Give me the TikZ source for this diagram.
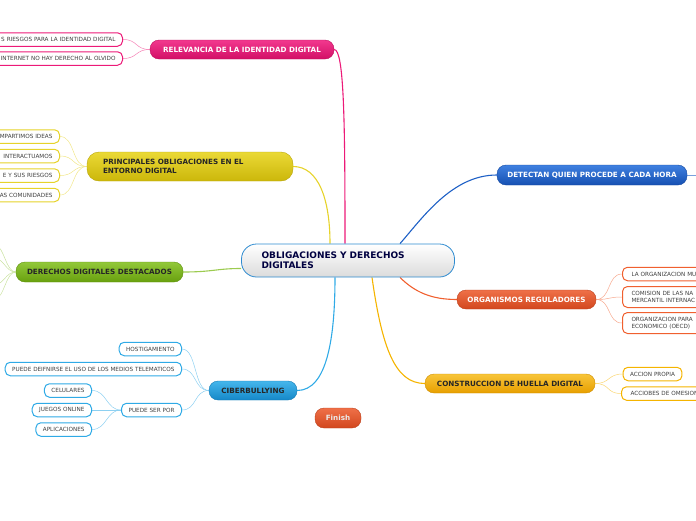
\documentclass[tikz,border=0pt]{standalone}
\usepackage{fontspec}
\setmainfont{DejaVu Sans}
\usetikzlibrary{backgrounds}
\definecolor{rootline}{HTML}{2E8BD0}
\definecolor{pinkA}{HTML}{F2388E}\definecolor{pinkB}{HTML}{D20F66}
\definecolor{yelA}{HTML}{EAD936}\definecolor{yelB}{HTML}{CCB70A}
\definecolor{grnA}{HTML}{92C83A}\definecolor{grnB}{HTML}{68A00E}
\definecolor{cyaA}{HTML}{45B6EC}\definecolor{cyaB}{HTML}{1588C8}
\definecolor{bluA}{HTML}{3F80E0}\definecolor{bluB}{HTML}{1650B2}
\definecolor{orgA}{HTML}{EF7048}\definecolor{orgB}{HTML}{D2471E}
\definecolor{ambA}{HTML}{F8C53A}\definecolor{ambB}{HTML}{E79F00}
\definecolor{pinkline}{HTML}{EC1A78}
\definecolor{yelline}{HTML}{E6D32A}
\definecolor{grnline}{HTML}{9CCB50}
\definecolor{cyaline}{HTML}{2FAAE6}
\definecolor{bluline}{HTML}{1E60C6}
\definecolor{orgline}{HTML}{F0602F}
\definecolor{ambline}{HTML}{F5B400}
\tikzset{
  root/.style={
    draw=rootline,
    line width=0.8pt,
    top color=white,
    bottom color=black!14,
    rounded corners=15pt,
    minimum height=33pt,
    inner xsep=20pt,
    inner ysep=0pt,
    align=left,
    text=blue!25!black,
    font=\bfseries\fontsize{9}{10.2}\selectfont,
  },
  topic/.style 2 args={
    draw=#2!90!black,
    line width=0.4pt,
    top color=#1,
    bottom color=#2,
    rounded corners=9pt,
    minimum height=19pt,
    inner sep=0pt,
    font=\bfseries\fontsize{7.2}{8.6}\selectfont,
  },
  leaf/.style={
    draw=#1,
    fill=white,
    line width=1pt,
    rounded corners=5pt,
    minimum height=13.5pt,
    inner xsep=7pt,
    inner ysep=0pt,
    text=black!75,
    font=\fontsize{5.7}{7}\selectfont,
  },
  branch/.style={line width=1.1pt, draw=#1},
  twig/.style={line width=0.5pt, draw=#1!55},
}

\begin{document}
\begin{tikzpicture}[x=1pt, y=-1pt]
    \useasboundingbox (0, 0) rectangle (696, 520);

    % central topic
    \node[root, text width=173pt] (root) at (348, 260.5) {OBLIGACIONES Y DERECHOS\\DIGITALES};

    % main topics
    \node[topic={pinkA}{pinkB}, text=white, minimum width=184pt] (relev) at (242, 49.5) {RELEVANCIA DE LA IDENTIDAD DIGITAL};
    \node[topic={yelA}{yelB}, minimum width=206pt, minimum height=29pt, rounded corners=12pt,
          text width=174pt, align=left, text=black!85] (oblig) at (190, 166.5) {PRINCIPALES OBLIGACIONES EN EL\\ENTORNO DIGITAL};
    \node[topic={grnA}{grnB}, text=black!85, minimum width=167pt, minimum height=20pt] (derech) at (99.5, 272) {DERECHOS DIGITALES DESTACADOS};
    \node[topic={cyaA}{cyaB}, text=black!85, minimum width=88pt] (ciber) at (253, 390.5) {CIBERBULLYING};
    \node[topic={bluA}{bluB}, text=white, minimum width=190pt, minimum height=20pt] (detect) at (592, 175) {DETECTAN QUIEN PROCEDE A CADA HORA};
    \node[topic={orgA}{orgB}, text=white, minimum width=139pt] (organ) at (526.5, 299.5) {ORGANISMOS REGULADORES};
    \node[topic={ambA}{ambB}, text=black!85, minimum width=170pt] (huella) at (510, 383.5) {CONSTRUCCION DE HUELLA DIGITAL};
    \node[topic={orgA}{orgB}, text=white!92!black, minimum width=46pt, minimum height=20pt] (finish) at (338, 418) {Finish};

    % leaves of relevancia
    \node[leaf=pinkline, anchor=east, text width=150pt, align=right] (relA) at (123, 39.5) {S RIESGOS PARA LA IDENTIDAD DIGITAL};
    \node[leaf=pinkline, anchor=east, text width=150pt, align=right] (relB) at (123, 58.5) {INTERNET NO HAY DERECHO AL OLVIDO};

    % leaves of obligaciones
    \node[leaf=yelline, anchor=east, text width=80pt, align=right] (oblA) at (60, 136.5) {MPARTIMOS IDEAS};
    \node[leaf=yelline, anchor=east, text width=80pt, align=right] (oblB) at (60, 156) {INTERACTUAMOS};
    \node[leaf=yelline, anchor=east, text width=80pt, align=right] (oblC) at (60, 175.5) {E Y SUS RIESGOS};
    \node[leaf=yelline, anchor=east, text width=80pt, align=right] (oblD) at (60, 195) {AS COMUNIDADES};

    % ends of derechos (off the page)
    \coordinate (derA) at (-4, 246);
    \coordinate (derB) at (-4, 259);
    \coordinate (derC) at (-4, 284);
    \coordinate (derD) at (-4, 298);

    % leaves of ciberbullying
    \node[leaf=cyaline, anchor=east] (cibA) at (182, 349) {HOSTIGAMIENTO};
    \node[leaf=cyaline, anchor=east] (cibB) at (182, 369) {PUEDE DEIFNIRSE EL USO DE LOS MEDIOS TELEMATICOS};
    \node[leaf=cyaline, anchor=east] (cibC) at (182, 410) {PUEDE SER POR};
    \node[leaf=cyaline, anchor=east] (porA) at (92, 390.5) {CELULARES};
    \node[leaf=cyaline, anchor=east] (porB) at (92, 410) {JUEGOS ONLINE};
    \node[leaf=cyaline, anchor=east] (porC) at (92, 429.5) {APLICACIONES};

    % detectan runs off the page
    \coordinate (detEnd) at (700, 175);

    % leaves of organismos
    \node[leaf=orgline, anchor=west, text width=90pt, align=left, inner xsep=9pt] (orgA) at (622, 274) {LA ORGANIZACION MU};
    \node[leaf=orgline, anchor=west, text width=90pt, align=left, inner xsep=9pt, minimum height=21pt] (orgB) at (622, 297) {COMISION DE LAS NA\\MERCANTIL INTERNAC};
    \node[leaf=orgline, anchor=west, text width=90pt, align=left, inner xsep=9pt, minimum height=21pt] (orgC) at (622, 323) {ORGANIZACION PARA\\ECONOMICO (OECD)};

    % leaves of huella
    \node[leaf=ambline] (hueA) at (652.5, 374) {ACCION PROPIA};
    \node[leaf=ambline, anchor=west, text width=90pt, align=left, inner xsep=9pt] (hueB) at (621, 393.5) {ACCIOBES DE OMESION};

    \begin{scope}[on background layer]
    % branches from the root
    \draw[branch=pinkline] (relev.east) .. controls +(10, 0) and +(0, -120) .. ([xshift=-3pt]root.north);
    \draw[branch=yelline] (oblig.east) .. controls +(25, 0) and +(0, -45) .. ([xshift=-18pt]root.north);
    \draw[branch=grnline] (derech.east) .. controls +(30, 0) and +(-25, 0) .. ([yshift=-8pt]root.west);
    \draw[branch=cyaline] (ciber.east) .. controls +(30, 0) and +(0, 60) .. ([xshift=-13pt]root.south);
    \draw[branch=bluline] ([xshift=52pt]root.north) .. controls +(22, -25) and +(-45, 0) .. (detect.west);
    \draw[branch=bluline!60, line width=0.6pt] (detect.east) -- (detEnd);
    \draw[branch=orgline] ([xshift=52pt]root.south) .. controls +(15, 15) and +(-25, 0) .. (organ.west);
    \draw[branch=ambline] ([xshift=24pt]root.south) .. controls +(10, 70) and +(-30, 0) .. (huella.west);

    % twigs to the leaves
    \foreach \leaf in {relA, relB}
      \draw[twig=pinkline] (relev.west) .. controls +(-15, 0) and +(15, 0) .. (\leaf.east);
    \foreach \leaf in {oblA, oblB, oblC, oblD}
      \draw[twig=yelline] (oblig.west) .. controls +(-15, 0) and +(15, 0) .. (\leaf.east);
    \foreach \leaf in {derA, derB, derC, derD}
      \draw[twig=grnline] (derech.west) .. controls +(-10, 0) and +(8, 0) .. (\leaf);
    \foreach \leaf in {cibA, cibB, cibC}
      \draw[twig=cyaline] (ciber.west) .. controls +(-15, 0) and +(15, 0) .. (\leaf.east);
    \foreach \leaf in {porA, porB, porC}
      \draw[twig=cyaline] (cibC.west) .. controls +(-15, 0) and +(15, 0) .. (\leaf.east);
    \foreach \leaf in {orgA, orgB, orgC}
      \draw[twig=orgline] (organ.east) .. controls +(15, 0) and +(-15, 0) .. (\leaf.west);
    \draw[twig=ambline] (huella.east) .. controls +(15, 0) and +(-15, 0) .. (hueA.west);
    \draw[twig=ambline] (huella.east) .. controls +(15, 0) and +(-15, 0) .. (hueB.west);
    \end{scope}

  \end{tikzpicture}
\end{document}
